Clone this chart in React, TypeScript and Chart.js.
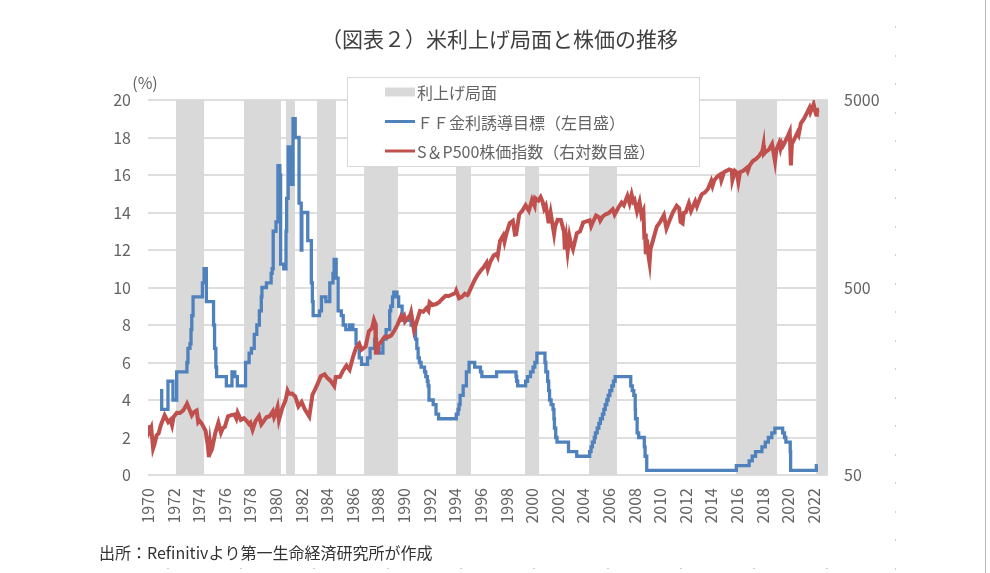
import React, { useEffect, useRef } from 'react';
import { Chart, registerables } from 'chart.js';

Chart.register(...registerables);

// ---------- DATA ----------
const titleText = '（図表２）米利上げ局面と株価の推移';
const sourceText = '出所：Refinitivより第一生命経済研究所が作成';
const unitText = '(%)';

const bandLabel = '利上げ局面';
const ffLabel = 'ＦＦ金利誘導目標（左目盛）';
const spLabel = 'S＆P500株価指数（右対数目盛）';

const yearTicks = [1970, 1972, 1974, 1976, 1978, 1980, 1982, 1984, 1986, 1988, 1990, 1992, 1994, 1996, 1998, 2000, 2002, 2004, 2006, 2008, 2010, 2012, 2014, 2016, 2018, 2020, 2022];
const leftTicks = [0, 2, 4, 6, 8, 10, 12, 14, 16, 18, 20];
const rightTicks = [50, 500, 5000];

// rate-hike phases (decimal years)
const bandStart = [1972.19, 1977.5, 1980.78, 1983.2, 1986.88, 1994.06, 1999.45, 2004.45, 2015.94, 2022.2];
const bandEnd = [1974.38, 1980.39, 1981.48, 1984.69, 1989.53, 1995.23, 2000.55, 2006.64, 2019.14, 2023.12];

// FF rate target: date of change -> new level (%)
const ffDates = [
  1970.94, 1971.07, 1971.56, 1971.95, 1972.24,
  1973.04, 1973.12, 1973.28, 1973.36, 1973.42, 1973.52,
  1974.25, 1974.38, 1974.56,
  1975.12, 1975.2, 1975.3, 1975.36,
  1976.12, 1976.56, 1976.78, 1976.98,
  1977.62, 1977.9,
  1978.08, 1978.3, 1978.5, 1978.7, 1978.85, 1978.9,
  1979.25, 1979.62, 1979.7, 1979.78,
  1980.0, 1980.15, 1980.3, 1980.36, 1980.6, 1980.78, 1980.83, 1980.95,
  1981.2, 1981.33, 1981.5, 1981.8, 1981.97,
  1982.02, 1982.48, 1982.76, 1982.84, 1982.9,
  1983.4, 1983.55, 1983.9,
  1984.2, 1984.45, 1984.54, 1984.7, 1984.85,
  1985.1, 1985.25, 1985.45, 1985.75,
  1986.0, 1986.25, 1986.5, 1986.68,
  1987.15, 1987.35, 1987.7, 1987.85,
  1988.05, 1988.35, 1988.6, 1988.88, 1988.96,
  1989.1, 1989.2, 1989.45, 1989.58, 1989.85, 1989.95,
  1990.55, 1990.8, 1990.9,
  1991.0, 1991.1, 1991.2, 1991.33, 1991.6, 1991.7, 1991.82, 1991.88, 1991.95,
  1992.28, 1992.5, 1992.7,
  1994.08, 1994.22, 1994.3, 1994.38, 1994.62, 1994.87,
  1995.08, 1995.52, 1995.97,
  1996.08,
  1997.23,
  1998.75, 1998.8, 1998.88,
  1999.5, 1999.65, 1999.88,
  2000.08, 2000.22, 2000.38,
  2001.01, 2001.08, 2001.22, 2001.3, 2001.37, 2001.49, 2001.64, 2001.71, 2001.75, 2001.85, 2001.95,
  2002.85,
  2003.49,
  2004.5, 2004.61, 2004.72, 2004.86, 2004.95,
  2005.09, 2005.22, 2005.34, 2005.5, 2005.61, 2005.72, 2005.84, 2005.95,
  2006.08, 2006.23, 2006.36, 2006.49,
  2007.71, 2007.83, 2007.95,
  2008.06, 2008.08, 2008.21, 2008.33, 2008.77, 2008.83, 2008.96,
  2015.96,
  2016.96,
  2017.2, 2017.46, 2017.96,
  2018.22, 2018.46, 2018.73, 2018.97,
  2019.58, 2019.72, 2019.83,
  2020.17, 2020.2,
  2022.21, 2022.32,
];
const ffValues = [
  4.5, 3.5, 5.0, 4.0, 5.5,
  6.0, 6.75, 7.0, 7.75, 8.5, 9.5,
  10.25, 11.0, 9.25,
  8.0, 6.75, 5.75, 5.25,
  4.75, 5.5, 5.25, 4.75,
  6.0, 6.5,
  6.75, 7.5, 8.0, 8.75, 9.5, 10.0,
  10.25, 10.75, 11.0, 13.0,
  13.5, 16.5, 16.0, 11.25, 11.0, 13.0, 14.75, 17.5,
  15.5, 19.0, 18.0, 14.5, 12.0,
  14.0, 12.5, 10.25, 9.25, 8.5,
  8.75, 9.5, 9.25,
  10.25, 10.75, 11.5, 10.5, 8.75,
  8.5, 8.0, 7.75, 8.0,
  7.75, 7.0, 6.25, 5.9,
  6.25, 6.75, 7.25, 6.75,
  6.5, 7.25, 7.75, 8.75, 9.0,
  9.5, 9.75, 9.5, 9.0, 8.5, 8.25,
  8.0, 7.75, 7.25,
  6.75, 6.25, 6.0, 5.75, 5.5, 5.25, 5.0, 4.75, 4.0,
  3.75, 3.25, 3.0,
  3.25, 3.5, 3.75, 4.25, 4.75, 5.5,
  6.0, 5.75, 5.5,
  5.25,
  5.5,
  5.25, 5.0, 4.75,
  5.0, 5.25, 5.5,
  5.75, 6.0, 6.5,
  6.0, 5.5, 5.0, 4.5, 4.0, 3.75, 3.5, 3.0, 2.5, 2.0, 1.75,
  1.25,
  1.0,
  1.25, 1.5, 1.75, 2.0, 2.25,
  2.5, 2.75, 3.0, 3.25, 3.5, 3.75, 4.0, 4.25,
  4.5, 4.75, 5.0, 5.25,
  4.75, 4.5, 4.25,
  3.5, 3.0, 2.25, 2.0, 1.5, 1.0, 0.25,
  0.5,
  0.75,
  1.0, 1.25, 1.5,
  1.75, 2.0, 2.25, 2.5,
  2.25, 2.0, 1.75,
  1.25, 0.25,
  0.5, 0.5,
];

// S&P 500 index (decimal year, level)
const spDates = [
  1970.0, 1970.1, 1970.25, 1970.4, 1970.5, 1970.67, 1970.83,
  1971.0, 1971.3, 1971.58, 1971.75, 1971.88,
  1972.0, 1972.25, 1972.5, 1972.75,
  1973.0, 1973.05, 1973.25, 1973.42, 1973.58, 1973.8, 1973.92,
  1974.0, 1974.2, 1974.5, 1974.67, 1974.76, 1974.85, 1974.93,
  1975.0, 1975.25, 1975.5, 1975.7, 1975.85,
  1976.0, 1976.25, 1976.5, 1976.75, 1976.9,
  1977.0, 1977.25, 1977.5, 1977.75, 1977.9,
  1978.0, 1978.17, 1978.4, 1978.67, 1978.85,
  1979.0, 1979.25, 1979.5, 1979.75, 1979.85,
  1980.0, 1980.12, 1980.23, 1980.5, 1980.75, 1980.9,
  1981.0, 1981.25, 1981.5, 1981.75,
  1982.0, 1982.25, 1982.6, 1982.75, 1982.85,
  1983.0, 1983.25, 1983.5, 1983.8,
  1984.0, 1984.25, 1984.55, 1984.67,
  1985.0, 1985.25, 1985.5, 1985.75,
  1986.0, 1986.25, 1986.5, 1986.67,
  1987.0, 1987.25, 1987.5, 1987.65, 1987.75, 1987.8, 1987.92,
  1988.0, 1988.25, 1988.5, 1988.75,
  1989.0, 1989.25, 1989.5, 1989.75, 1989.82,
  1990.0, 1990.08, 1990.5, 1990.55, 1990.78,
  1991.0, 1991.25, 1991.5, 1991.75, 1991.9,
  1992.0, 1992.25, 1992.5, 1992.75,
  1993.0, 1993.25, 1993.5, 1993.75,
  1994.0, 1994.08, 1994.3, 1994.5, 1994.75, 1994.95,
  1995.0, 1995.25, 1995.5, 1995.75,
  1996.0, 1996.25, 1996.45, 1996.55, 1996.75,
  1997.0, 1997.25, 1997.32, 1997.5, 1997.75, 1997.85,
  1998.0, 1998.25, 1998.5, 1998.67, 1998.76,
  1999.0, 1999.25, 1999.5, 1999.75,
  2000.0, 2000.2, 2000.25, 2000.5, 2000.67, 2000.83, 2000.95,
  2001.08, 2001.25, 2001.3, 2001.45, 2001.72, 2001.8,
  2002.0, 2002.25, 2002.5, 2002.56, 2002.67, 2002.78, 2002.92,
  2003.0, 2003.2, 2003.5, 2003.75,
  2004.0, 2004.25, 2004.5, 2004.62, 2004.75,
  2005.0, 2005.25, 2005.33, 2005.5, 2005.75,
  2006.0, 2006.3, 2006.45, 2006.75,
  2007.0, 2007.17, 2007.25, 2007.45, 2007.62, 2007.78, 2007.9,
  2008.0, 2008.2, 2008.4, 2008.55, 2008.7, 2008.78, 2008.83, 2008.89, 2008.97,
  2009.1, 2009.18, 2009.25, 2009.5, 2009.75,
  2010.0, 2010.3, 2010.5, 2010.75,
  2011.0, 2011.3, 2011.5, 2011.6, 2011.76, 2011.85,
  2012.0, 2012.25, 2012.42, 2012.75, 2012.88,
  2013.0, 2013.25, 2013.5, 2013.75,
  2014.0, 2014.1, 2014.25, 2014.5, 2014.7, 2014.79,
  2015.0, 2015.4, 2015.6, 2015.65, 2015.85,
  2016.0, 2016.12, 2016.25, 2016.5, 2016.75, 2016.85,
  2017.0, 2017.25, 2017.5, 2017.75,
  2018.0, 2018.08, 2018.12, 2018.25, 2018.5, 2018.75, 2018.98,
  2019.08, 2019.3, 2019.4, 2019.5, 2019.6, 2019.75,
  2020.0, 2020.13, 2020.22, 2020.3, 2020.5, 2020.75, 2020.83,
  2021.0, 2021.25, 2021.5, 2021.67, 2021.75, 2021.9,
  2022.0, 2022.1, 2022.2, 2022.25, 2022.3,
];
const spValues = [
  92, 85, 89.6, 69.3, 72.7, 81.5, 83.3,
  92.2, 104, 95.6, 98.3, 92,
  102, 107.2, 107.1, 110.5,
  118, 120, 111.5, 104, 108.2, 110.5, 96,
  97.6, 94, 86, 72, 62.3, 73.9, 67,
  68.6, 83.4, 95, 84, 89,
  90.2, 102.8, 104.3, 105.2, 100,
  107.5, 98.4, 100.5, 96.5, 93.5,
  95.1, 87, 97, 103.3, 93,
  96.1, 101.6, 102.9, 109.3, 101.8,
  107.9, 115, 98.2, 114.2, 125.5, 140.5,
  135.8, 136, 131.2, 116.2,
  122.6, 111.9, 102.4, 120.4, 134,
  140.6, 153, 168.1, 172,
  164.9, 159.2, 149, 166.7,
  167.2, 180.7, 191.9, 182,
  211.3, 238.9, 250.8, 233,
  242.2, 291.7, 304, 336, 321.8, 224.8, 225,
  247.1, 258.9, 273.5, 271.9,
  277.7, 294.9, 317.9, 349.2, 341,
  353.4, 329, 358, 368, 295.5,
  330.2, 375.2, 371.2, 387.9, 376,
  417.1, 403.7, 408.1, 417.8,
  435.7, 451.7, 450.5, 458.9,
  466.5, 481.6, 438, 444.3, 462.7, 455,
  459.3, 500.7, 544.8, 584.4,
  615.9, 645.5, 678, 626, 687.3,
  740.7, 757.1, 737, 885.1, 947.3, 876,
  970.4, 1101.8, 1133.8, 957.3, 960,
  1229.2, 1286.4, 1372.7, 1282.7,
  1469.3, 1366, 1498.6, 1454.6, 1517.7, 1429.4, 1315,
  1366, 1160.3, 1103, 1255, 965.8, 1059,
  1148.1, 1147.4, 989.8, 797, 916, 776.8, 936,
  879.8, 800.7, 974.5, 996,
  1111.9, 1126.2, 1140.8, 1063, 1114.6,
  1211.9, 1180.6, 1137, 1191.3, 1228.8,
  1248.3, 1305, 1223, 1335.9,
  1418.3, 1374, 1420.9, 1539, 1406, 1565, 1440,
  1468.4, 1273, 1426, 1214, 1282, 899, 968.8, 752, 903.3,
  735, 676.5, 797.9, 919.3, 1057.1,
  1115.1, 1217, 1030.7, 1141.2,
  1257.6, 1363.6, 1320.6, 1119, 1099, 1247,
  1257.6, 1408.5, 1278, 1440.7, 1353,
  1426.2, 1569.2, 1606.3, 1681.6,
  1848.4, 1741, 1872.3, 1960.2, 2003, 1862,
  2058.9, 2130, 2104, 1867, 2090,
  2043.9, 1829, 2059.7, 2098.9, 2168.3, 2085,
  2238.8, 2362.7, 2423.4, 2519.4,
  2673.6, 2872, 2581, 2640.9, 2718.4, 2914, 2351,
  2704, 2945, 2752, 2941.8, 2847, 2976.7,
  3230.8, 3386, 2237, 2912, 3100.3, 3363, 3270,
  3756.1, 3972.9, 4297.5, 4537, 4307.5, 4567,
  4766.2, 4400, 4170, 4530, 4270,
];

// ---------- STYLE ----------
const FONT = "'Noto Sans CJK JP', 'Noto Sans', sans-serif";
const TICK_COLOR = '#636363';
const BLUE = '#4f81bd';
const RED = '#c0504d';
const BAND = '#d9d9d9';
const GRID = '#dedede';

const decorPlugin = {
  id: 'decor',
  afterDraw(chart: any) {
    const ctx = chart.ctx as CanvasRenderingContext2D;
    const ds = chart.data.datasets;
    ctx.save();

    // unit label
    ctx.fillStyle = TICK_COLOR;
    ctx.font = `16px ${FONT}`;
    ctx.textAlign = 'center';
    ctx.textBaseline = 'middle';
    ctx.fillText(unitText, 145, 83);

    // legend box
    ctx.fillStyle = '#ffffff';
    ctx.fillRect(347, 77, 352, 89);
    ctx.strokeStyle = '#d9d9d9';
    ctx.lineWidth = 1;
    ctx.strokeRect(347.5, 77.5, 352, 89);

    const rows = [
      { d: ds[2], y: 92, kind: 'box' },
      { d: ds[1], y: 121.5, kind: 'line' },
      { d: ds[0], y: 151, kind: 'line' },
    ];
    ctx.font = `16px ${FONT}`;
    ctx.textAlign = 'left';
    ctx.textBaseline = 'middle';
    rows.forEach((r) => {
      if (r.kind === 'box') {
        ctx.fillStyle = r.d.backgroundColor;
        ctx.fillRect(385, r.y - 4.5, 30, 9);
      } else {
        ctx.strokeStyle = r.d.borderColor;
        ctx.lineWidth = 3;
        ctx.beginPath();
        ctx.moveTo(385, r.y);
        ctx.lineTo(415, r.y);
        ctx.stroke();
      }
      ctx.fillStyle = TICK_COLOR;
      ctx.fillText(r.d.label, 417, r.y + 1);
    });

    // source note
    ctx.fillStyle = '#333333';
    ctx.font = `16px ${FONT}`;
    ctx.textAlign = 'left';
    ctx.fillText(sourceText, 99, 553);

    // page guide lines of the original capture
    ctx.fillStyle = '#b8b8b8';
    ctx.fillRect(985, 0, 1, 573);
    ctx.fillStyle = '#cfcfcf';
    for (let y = 26.3; y < 573; y += 28.5) ctx.fillRect(895, Math.round(y), 1, 2);
    for (let x = 166.7; x < 895; x += 73.3) ctx.fillRect(Math.round(x), 568, 2, 1);

    ctx.restore();
  },
};

export default function App() {
  const ref = useRef<HTMLCanvasElement>(null);

  useEffect(() => {
    document.body.style.margin = '0';
    const canvas = ref.current;
    if (!canvas) return;

    const ffData = ffDates.map((x, i) => ({ x, y: ffValues[i] }));
    const spData = spDates.map((x, i) => ({ x, y: spValues[i] }));
    const bandData: { x: number; y: number }[] = [{ x: yearTicks[0], y: 0 }];
    bandStart.forEach((s, i) => {
      const e = bandEnd[i];
      bandData.push({ x: s, y: 0 }, { x: s, y: 20 }, { x: e, y: 20 }, { x: e, y: 0 });
    });

    const chart = new Chart(canvas, {
      type: 'line',
      data: {
        datasets: [
          {
            label: spLabel,
            data: spData,
            yAxisID: 'y2',
            borderColor: RED,
            backgroundColor: RED,
            borderWidth: 4,
            pointRadius: 0,
            tension: 0,
            order: 1,
          },
          {
            label: ffLabel,
            data: ffData,
            yAxisID: 'y',
            borderColor: BLUE,
            backgroundColor: BLUE,
            borderWidth: 3.3,
            pointRadius: 0,
            stepped: true,
            order: 2,
          },
          {
            label: bandLabel,
            data: bandData,
            yAxisID: 'y',
            borderColor: 'rgba(0,0,0,0)',
            backgroundColor: BAND,
            borderWidth: 0,
            pointRadius: 0,
            fill: 'origin',
            order: 3,
          },
        ],
      },
      options: {
        responsive: false,
        animation: false,
        devicePixelRatio: 1,
        events: [],
        layout: { padding: { left: 9, right: 0, top: 0, bottom: 0 } },
        plugins: {
          legend: { display: false },
          tooltip: { enabled: false },
          title: {
            display: true,
            text: titleText,
            color: '#404040',
            font: { family: FONT, size: 21, weight: 'normal' },
            padding: { top: 26, bottom: 48.8 },
          },
        },
        scales: {
          x: {
            type: 'linear',
            min: 1970,
            max: 2023.12,
            afterBuildTicks: (s: any) => {
              s.ticks = yearTicks.map((v) => ({ value: v }));
            },
            afterFit: (s: any) => {
              s.height = 98;
            },
            grid: { display: false, drawTicks: false },
            border: { display: false },
            ticks: {
              autoSkip: false,
              minRotation: 90,
              maxRotation: 90,
              padding: 13,
              color: TICK_COLOR,
              font: { family: FONT, size: 16 },
              callback: (v: any) => String(v),
            },
          },
          y: {
            type: 'linear',
            position: 'left',
            min: 0,
            max: 20,
            afterBuildTicks: (s: any) => {
              s.ticks = leftTicks.map((v) => ({ value: v }));
            },
            afterFit: (s: any) => {
              s.width = 139;
            },
            grid: { color: GRID, lineWidth: 2, drawTicks: false },
            border: { display: false },
            ticks: {
              padding: 17,
              color: TICK_COLOR,
              font: { family: FONT, size: 16 },
              callback: (v: any) => String(v),
            },
          },
          y2: {
            type: 'logarithmic',
            position: 'right',
            min: 50,
            max: 5000,
            afterBuildTicks: (s: any) => {
              s.ticks = rightTicks.map((v) => ({ value: v }));
            },
            afterFit: (s: any) => {
              s.width = 162;
            },
            grid: { display: false, drawTicks: false },
            border: { display: false },
            ticks: {
              padding: 16,
              color: TICK_COLOR,
              font: { family: FONT, size: 16 },
              callback: (v: any) => String(v),
            },
          },
        },
      },
      plugins: [decorPlugin],
    } as any);

    return () => chart.destroy();
  }, []);

  return (
    <div style={{ width: 990, height: 573, background: '#ffffff' }}>
      <canvas ref={ref} width={990} height={573} style={{ display: 'block' }} />
    </div>
  );
}
